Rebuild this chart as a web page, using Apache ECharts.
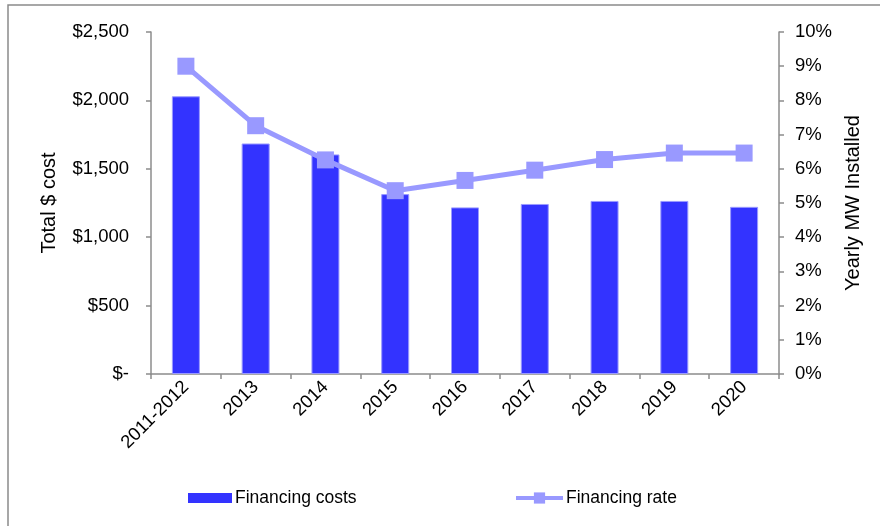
<!DOCTYPE html>
<html>
<head>
<meta charset="utf-8">
<script src="https://cdn.jsdelivr.net/npm/echarts@6/dist/echarts.min.js"></script>
<style>
  html, body { margin: 0; padding: 0; background: #fff; }
  #chart { width: 880px; height: 526px; }
</style>
</head>
<body>
<div id="chart"></div>
<script>
// Categories on the x axis
const years = ['2011-2012', '2013', '2014', '2015', '2016', '2017', '2018', '2019', '2020'];
// Total financing cost ($)
const financingCosts = [2030, 1685, 1605, 1315, 1218, 1243, 1265, 1265, 1222];
// Financing rate (%)
const financingRate = [9.0, 7.26, 6.26, 5.36, 5.66, 5.96, 6.27, 6.46, 6.46];

const FONT = '"Liberation Sans", Arial, sans-serif';
const AXIS_GREY = '#8c8c8c';

const chart = echarts.init(document.getElementById('chart'), null, { renderer: 'canvas' });

chart.setOption({
  animation: false,
  backgroundColor: '#fff',
  textStyle: { fontFamily: FONT, color: '#000' },
  graphic: [{
    type: 'rect',
    shape: { x: 8, y: 5, width: 1000, height: 700 },
    style: { fill: 'none', stroke: '#8a8a8a', lineWidth: 1.5 },
    silent: true
  }],
  grid: { left: 151, right: 101, top: 32, bottom: 152, containLabel: false },
  legend: [{
    data: ['Financing costs'],
    left: 188, top: 489, padding: 0,
    icon: 'rect', itemWidth: 44, itemHeight: 10, itemGap: 6,
    itemStyle: { borderWidth: 0 },
    textStyle: { fontFamily: FONT, fontSize: 17.5, color: '#000', padding: [0, 0, 0, -2] }
  }, {
    data: ['Financing rate'],
    left: 514, top: 489, padding: 0,
    itemWidth: 47, itemHeight: 14,
    lineStyle: { width: 4 },
    textStyle: { fontFamily: FONT, fontSize: 17.5, color: '#000', padding: [0, 0, 0, -2] }
  }],
  xAxis: {
    type: 'category',
    data: years,
    boundaryGap: true,
    axisLine: { lineStyle: { color: AXIS_GREY, width: 1.5 } },
    axisTick: { show: true, alignWithLabel: false, length: 5, lineStyle: { color: AXIS_GREY, width: 1.5 } },
    axisLabel: { rotate: 45, fontSize: 18.5, color: '#000', fontFamily: FONT, margin: 10, interval: 0 },
    splitLine: { show: false }
  },
  yAxis: [{
    type: 'value',
    min: 0, max: 2500, interval: 500,
    position: 'left',
    name: 'Total $ cost',
    nameLocation: 'middle',
    nameRotate: 90,
    nameGap: 92,
    nameTextStyle: { fontFamily: FONT, fontSize: 20, color: '#000' },
    axisLine: { show: true, lineStyle: { color: AXIS_GREY, width: 1.5 } },
    axisTick: { show: true, length: 5, lineStyle: { color: AXIS_GREY, width: 1.5 } },
    axisLabel: {
      fontSize: 18.5, color: '#000', fontFamily: FONT, margin: 22,
      formatter: v => v === 0 ? '$-' : '$' + v.toLocaleString('en-US')
    },
    splitLine: { show: false }
  }, {
    type: 'value',
    min: 0, max: 10, interval: 1,
    position: 'right',
    name: 'Yearly MW Installed',
    nameLocation: 'middle',
    nameRotate: 90,
    nameGap: 64,
    nameTextStyle: { fontFamily: FONT, fontSize: 20, color: '#000' },
    axisLine: { show: true, lineStyle: { color: AXIS_GREY, width: 1.5 } },
    axisTick: { show: true, length: 5, lineStyle: { color: AXIS_GREY, width: 1.5 } },
    axisLabel: { fontSize: 18.5, color: '#000', fontFamily: FONT, margin: 16, formatter: v => v + '%' },
    splitLine: { show: false }
  }],
  series: [{
    name: 'Financing costs',
    type: 'bar',
    yAxisIndex: 0,
    data: financingCosts,
    barWidth: 28,
    itemStyle: { color: '#3333ff', borderColor: '#9a9aff', borderWidth: 1 }
  }, {
    name: 'Financing rate',
    type: 'line',
    yAxisIndex: 1,
    data: financingRate,
    symbol: 'rect',
    symbolSize: 17,
    lineStyle: { color: '#9999ff', width: 5 },
    itemStyle: { color: '#9999ff', borderColor: '#9999ff', borderWidth: 0 },
    z: 3
  }]
});
</script>
</body>
</html>
